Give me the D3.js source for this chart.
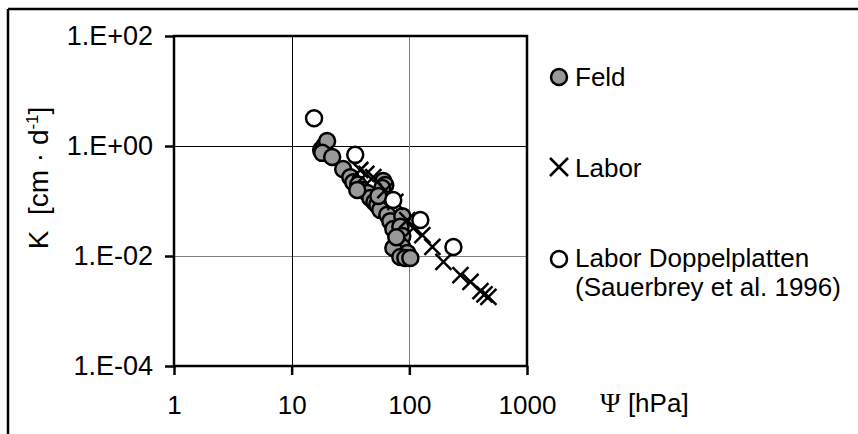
<html>
<head>
    <meta charset="utf-8" />
    <title>K - Psi</title>
    <script src="https://d3js.org/d3.v7.min.js"></script>
    <style>
      body { margin: 0; background: #fff; }
      text { font-family: Arial, "Liberation Sans", sans-serif; fill: #000; white-space: pre; }
    </style>
</head>
<body>
    <svg class="chart"></svg>
    <script type="application/javascript">
    // Feld (field measurements): Psi [hPa], K [cm/d]
    const feldPsi = [17.8, 18.9, 20.0, 18.2, 22.1, 27.4, 31.5, 33.4, 36.8, 39.8, 44, 46.6, 50.4, 53.4, 56.6, 60.1, 62.5, 58.9, 65, 68.9, 73.1, 87.2, 83.8, 87.2, 80.6, 87.2, 73.1, 96.2, 83.8, 92.5, 102, 77.5, 54.5, 36.1];
    const feldK = [0.85, 1.0, 1.23, 0.75, 0.63, 0.38, 0.27, 0.22, 0.20, 0.158, 0.14, 0.113, 0.096, 0.085, 0.069, 0.23, 0.195, 0.172, 0.056, 0.043, 0.031, 0.053, 0.034, 0.023, 0.0172, 0.0146, 0.014, 0.0113, 0.0096, 0.0092, 0.0092, 0.022, 0.123, 0.158];
    // Labor
    const laborPsi = [38.3, 43.1, 49.4, 62.5, 76, 96, 108, 129, 157, 195, 272, 331, 402, 435, 470];
    const laborK = [0.366, 0.31, 0.273, 0.158, 0.096, 0.045, 0.032, 0.024, 0.0146, 0.0078, 0.0045, 0.0034, 0.0023, 0.002, 0.0018];
    // Labor Doppelplatten (Sauerbrey et al. 1996)
    const doppelPsi = [15.5, 34.7, 73, 124, 237];
    const doppelK = [3.2, 0.69, 0.104, 0.045, 0.0146];

    const xTicks = [1, 10, 100, 1000];
    const yTicks = [1e-4, 1e-2, 1, 100];
    const yTickLabels = ["1.E-04", "1.E-02", "1.E+00", "1.E+02"];
    const gridX = [10, 100];
    const gridY = [1e-2, 1];

    const W = 858, H = 434;
    const svg = d3.select("svg").attr("width", W).attr("height", H);

    // outer frame (only top and left edges are visible)
    svg.append("line").attr("x1", 8).attr("x2", W).attr("y1", 9).attr("y2", 9)
      .attr("stroke", "#000").attr("stroke-width", 2.5);
    svg.append("line").attr("x1", 8).attr("x2", 8).attr("y1", 9).attr("y2", H)
      .attr("stroke", "#000").attr("stroke-width", 2.5);

    const x = d3.scaleLog().domain([1, 1000]).range([174, 527]);
    const y = d3.scaleLog().domain([1e-4, 100]).range([366, 36]);

    // gridlines (Excel renders them black / grey)
    const gridColor = d => (d === 1 || d === 10) ? "#000" : "#808080";
    svg.append("g").selectAll("line").data(gridY).enter().append("line")
      .attr("x1", x(1)).attr("x2", x(1000))
      .attr("y1", d => Math.round(y(d)) + 0.5).attr("y2", d => Math.round(y(d)) + 0.5)
      .attr("stroke", gridColor).attr("stroke-width", 1);
    svg.append("g").selectAll("line").data(gridX).enter().append("line")
      .attr("y1", y(100)).attr("y2", y(1e-4))
      .attr("x1", d => Math.round(x(d)) + 0.5).attr("x2", d => Math.round(x(d)) + 0.5)
      .attr("stroke", gridColor).attr("stroke-width", 1);

    // plot box
    svg.append("rect").attr("x", x(1)).attr("y", y(100))
      .attr("width", x(1000) - x(1)).attr("height", y(1e-4) - y(100))
      .attr("fill", "none").attr("stroke", "#000").attr("stroke-width", 2.5);

    // axes
    const xAxis = svg.append("g").attr("transform", `translate(0,${y(1e-4)})`)
      .call(d3.axisBottom(x).tickValues(xTicks).tickFormat(d3.format("d")).tickSize(9).tickPadding(21));
    const yAxis = svg.append("g").attr("transform", `translate(${x(1)},0)`)
      .call(d3.axisLeft(y).tickValues(yTicks).tickFormat((d, i) => yTickLabels[i]).tickSize(9).tickPadding(12));
    [xAxis, yAxis].forEach(g => {
      g.select(".domain").remove();
      g.selectAll(".tick line").attr("stroke", "#000").attr("stroke-width", 2.5);
      g.selectAll(".tick text").attr("fill", "#000")
        .style("font-family", "Arial, 'Liberation Sans', sans-serif");
    });
    xAxis.selectAll(".tick text").attr("font-size", 26);
    yAxis.selectAll(".tick text").attr("font-size", 27);

    // series
    const feld = feldPsi.map((p, i) => ({ p: p, k: feldK[i] }));
    const labor = laborPsi.map((p, i) => ({ p: p, k: laborK[i] }));
    const doppel = doppelPsi.map((p, i) => ({ p: p, k: doppelK[i] }));

    svg.append("g").selectAll("circle").data(feld).enter().append("circle")
      .attr("cx", d => x(d.p)).attr("cy", d => y(d.k)).attr("r", 8)
      .attr("fill", "#999999").attr("stroke", "#000").attr("stroke-width", 2.5);

    const s = 8;
    const xPath = `M${-s},${-s}L${s},${s}M${-s},${s}L${s},${-s}`;
    svg.append("g").selectAll("path").data(labor).enter().append("path")
      .attr("transform", d => `translate(${x(d.p)},${y(d.k)})`)
      .attr("d", xPath).attr("stroke", "#000").attr("stroke-width", 2.5).attr("fill", "none");

    svg.append("g").selectAll("circle").data(doppel).enter().append("circle")
      .attr("cx", d => x(d.p)).attr("cy", d => y(d.k)).attr("r", 8)
      .attr("fill", "#fff").attr("stroke", "#000").attr("stroke-width", 2.5);

    // axis titles
    const yt = svg.append("text").attr("transform", "translate(48,178) rotate(-90)")
      .attr("text-anchor", "middle").attr("font-size", 28);
    yt.append("tspan").text("K\u00a0\u00a0[cm\u00a0·\u00a0d");
    yt.append("tspan").attr("font-size", 17).attr("dy", -10).text("-1");
    yt.append("tspan").attr("dy", 10).text("]");

    const xt = svg.append("text").attr("x", 600).attr("y", 412).attr("font-size", 26);
    xt.append("tspan").attr("font-size", 28).style("font-family", "'Liberation Serif', serif").text("Ψ");
    xt.append("tspan").text("\u00a0[hPa]");

    // legend
    const lx = 559, tx = 575;
    svg.append("circle").attr("cx", lx).attr("cy", 77).attr("r", 8)
      .attr("fill", "#999999").attr("stroke", "#000").attr("stroke-width", 2.5);
    svg.append("text").attr("x", tx).attr("y", 86).attr("font-size", 26).text("Feld");
    svg.append("path").attr("transform", `translate(${lx},167)`)
      .attr("d", `M-9,-9L9,9M-9,9L9,-9`).attr("stroke", "#000").attr("stroke-width", 2.5);
    svg.append("text").attr("x", tx).attr("y", 177).attr("font-size", 26).text("Labor");
    svg.append("circle").attr("cx", lx).attr("cy", 259).attr("r", 8)
      .attr("fill", "#fff").attr("stroke", "#000").attr("stroke-width", 2.5);
    svg.append("text").attr("x", tx).attr("y", 267).attr("font-size", 26).text("Labor Doppelplatten");
    svg.append("text").attr("x", tx).attr("y", 296).attr("font-size", 26).text("(Sauerbrey et al. 1996)");
    </script>
</body>
</html>
